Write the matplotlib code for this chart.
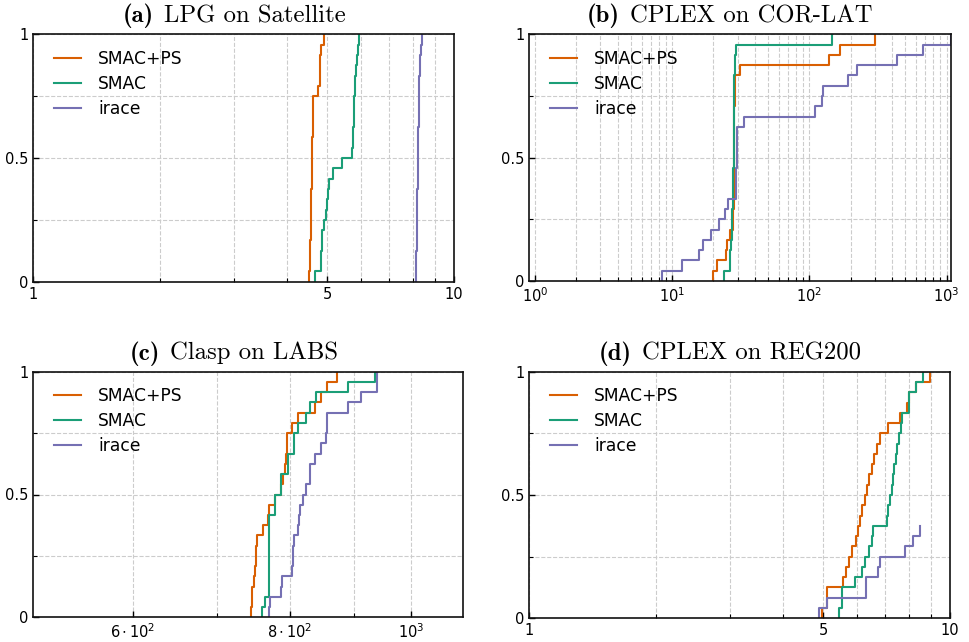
import numpy as np
import matplotlib
matplotlib.use("Agg")
import matplotlib.pyplot as plt
from matplotlib.ticker import FixedLocator, FixedFormatter, NullFormatter, LogLocator
from matplotlib.offsetbox import TextArea, HPacker, AnchoredOffsetbox

plt.rcParams["mathtext.fontset"] = "cm"
plt.rcParams["font.family"] = ["DejaVu Sans"]

series_labels = ["SMAC+PS", "SMAC", "irace"]
series_colors = ["#d95f02", "#1b9e77", "#7570b3"]
n_instances = 24

title_tags = ["(a)", "(b)", "(c)", "(d)"]
title_texts = ["LPG on Satellite", "CPLEX on COR-LAT", "Clasp on LABS", "CPLEX on REG200"]

# (a) LPG on Satellite — sorted runtimes (one per instance)
a_smacps = [4.53, 4.54, 4.545, 4.55, 4.56, 4.565, 4.57, 4.575, 4.58, 4.585, 4.59, 4.595,
            4.60, 4.605, 4.61, 4.615, 4.62, 4.63, 4.76, 4.79, 4.80, 4.81, 4.83, 4.90]
a_smac = [4.68, 4.82, 4.83, 4.845, 4.86, 4.92, 4.95, 4.98, 5.01, 5.05, 5.17, 5.42,
          5.72, 5.75, 5.76, 5.775, 5.79, 5.80, 5.81, 5.82, 5.86, 5.89, 5.92, 5.95]
a_irace = [8.12, 8.13, 8.14, 8.15, 8.155, 8.16, 8.17, 8.18, 8.185, 8.19, 8.20, 8.21,
           8.215, 8.22, 8.23, 8.24, 8.245, 8.25, 8.26, 8.27, 8.29, 8.31, 8.33, 8.38]

# (b) CPLEX on COR-LAT
b_smacps = [19.7, 21.3, 24.7, 25.2, 26.4, 27.9, 27.95, 28.0, 28.05, 28.1, 28.15, 28.2,
            28.25, 28.3, 28.35, 28.4, 28.45, 28.5, 28.55, 28.7, 31.2, 139, 167, 301]
b_smac = [23.9, 26.3, 26.6, 27.0, 27.3, 27.4, 27.5, 27.6, 27.7, 27.8, 27.9, 28.0,
          28.0, 28.1, 28.1, 28.2, 28.2, 28.3, 28.3, 28.4, 28.5, 28.7, 29.2, 145]
b_irace = [8.47, 11.85, 15.7, 16.7, 19.2, 21.9, 24.4, 25.4, 29.3, 29.35, 29.4, 29.45,
           29.5, 29.55, 29.6, 33.6, 110, 123, 125, 190, 223, 433, 676, 1071]

# (c) Clasp on LABS
c_smacps = [745, 746, 747, 750, 751, 752, 752, 753, 762, 769, 770, 778.6,
            788, 790, 793, 794.4, 796, 796.4, 804, 812.5, 838, 847, 856, 873]
c_smac = [761, 764, 770, 770, 770, 770, 770, 770, 770, 770, 779, 779,
          788, 788, 797, 797, 806, 807, 813, 824, 830, 840, 890, 935]
c_irace = [771, 771.5, 788, 788.5, 804, 805, 805, 806, 813, 814, 815, 820,
           824, 830, 830.5, 838.5, 847, 855, 856, 857, 890, 912.5, 939, 939.6]

# (d) CPLEX on REG200 (irace solved only part of the instances)
d_smacps = [4.97, 5.09, 5.09, 5.58, 5.66, 5.75, 5.84, 5.97, 6.05, 6.11, 6.19, 6.28,
            6.36, 6.43, 6.52, 6.60, 6.70, 6.82, 7.14, 7.61, 7.89, 8.00, 8.30, 8.96]
d_smac = [5.44, 5.55, 5.55, 5.95, 6.17, 6.28, 6.43, 6.52, 6.57, 7.07, 7.14, 7.20,
          7.27, 7.31, 7.36, 7.45, 7.50, 7.58, 7.64, 7.68, 8.00, 8.00, 8.30, 8.64]
d_irace = [4.89, 5.09, 6.30, 6.32, 6.75, 6.82, 7.82, 8.15, 8.49]

panel_data = [[a_smacps, a_smac, a_irace],
              [b_smacps, b_smac, b_irace],
              [c_smacps, c_smac, c_irace],
              [d_smacps, d_smac, d_irace]]

xlims = [(1, 10), (0.91, 1076), (500, 1100), (1, 10)]

y_major = [0, 0.5, 1]
y_major_labels = ["0", "0.5", "1"]
y_minor = [0.25, 0.75]

a_xticks = [1, 5, 10]
a_xticklabels = ["1", "5", "10"]
a_xminor = [2, 3, 4, 6, 7, 8, 9]
c_xticks = [600, 800, 1000]
c_xticklabels = [r"$\mathdefault{6\cdot10^{2}}$", r"$\mathdefault{8\cdot10^{2}}$",
                 r"$\mathdefault{10^{3}}$"]
c_xminor = [700, 900]

W, H = 969, 642
boxes = [(33.3, 34.3, 454.0, 281.7),
         (529.3, 34.3, 951.0, 281.0),
         (33.3, 371.7, 463.3, 617.3),
         (529.3, 371.7, 950.0, 618.3)]
title_centers = [234.5, 729.7, 234.0, 730.0]   # pixel x of title centre
title_bottoms = [28.5, 28.5, 365.5, 365.5]     # pixel y of title box bottom

fig = plt.figure(figsize=(W / 100, H / 100), dpi=100)

for i, (l, t, r, b) in enumerate(boxes):
    ax = fig.add_axes([l / W, 1 - b / H, (r - l) / W, (b - t) / H])
    for vals, lab, col in zip(panel_data[i], series_labels, series_colors):
        v = np.sort(np.asarray(vals, dtype=float))
        x = np.concatenate([[v[0]], v])
        y = np.concatenate([[0.0], np.arange(1, len(v) + 1) / n_instances])
        ax.step(x, y, where="post", color=col, lw=1.5, label=lab)
    ax.set_xscale("log")
    ax.set_xlim(*xlims[i])
    ax.set_ylim(0, 1)
    if i in (0, 3):
        ax.xaxis.set_major_locator(FixedLocator(a_xticks))
        ax.xaxis.set_major_formatter(FixedFormatter(a_xticklabels))
        ax.xaxis.set_minor_locator(FixedLocator(a_xminor))
        ax.xaxis.set_minor_formatter(NullFormatter())
    elif i == 2:
        ax.xaxis.set_major_locator(FixedLocator(c_xticks))
        ax.xaxis.set_major_formatter(FixedFormatter(c_xticklabels))
        ax.xaxis.set_minor_locator(FixedLocator(c_xminor))
        ax.xaxis.set_minor_formatter(NullFormatter())
    else:
        ax.xaxis.set_major_locator(LogLocator(base=10, numticks=10))
        ax.xaxis.set_minor_locator(LogLocator(base=10, subs=np.arange(2, 10), numticks=20))
        ax.xaxis.set_minor_formatter(NullFormatter())
    ax.yaxis.set_major_locator(FixedLocator(y_major))
    ax.yaxis.set_major_formatter(FixedFormatter(y_major_labels))
    ax.yaxis.set_minor_locator(FixedLocator(y_minor))
    ax.yaxis.set_minor_formatter(NullFormatter())
    ax.grid(True, which="both", color="#cccccc", ls="--", lw=0.8)
    ax.set_axisbelow(True)
    ax.tick_params(which="both", direction="in", labelsize=10.5, colors="black")
    ax.tick_params(which="major", length=4, width=1)
    ax.tick_params(which="minor", length=3, width=0.8)
    for s in ax.spines.values():
        s.set_linewidth(1.2)
        s.set_color("#111111")
    ax.legend(loc="upper left", bbox_to_anchor=(0.008, 1.006), frameon=False,
              fontsize=12.3, handlelength=1.6, handletextpad=1.0, labelspacing=0.4,
              borderaxespad=0.6)

    tag = TextArea(title_tags[i], textprops=dict(family="cmb10", size=17.8))
    txt = TextArea(title_texts[i], textprops=dict(family="cmr10", size=17.8))
    pack = HPacker(children=[tag, txt], align="baseline", pad=0, sep=7)
    box = AnchoredOffsetbox(loc="lower center", child=pack, pad=0, borderpad=0,
                            frameon=False,
                            bbox_to_anchor=(title_centers[i] / W, 1 - title_bottoms[i] / H),
                            bbox_transform=fig.transFigure)
    fig.add_artist(box)

fig.savefig("out.png", dpi=100)
